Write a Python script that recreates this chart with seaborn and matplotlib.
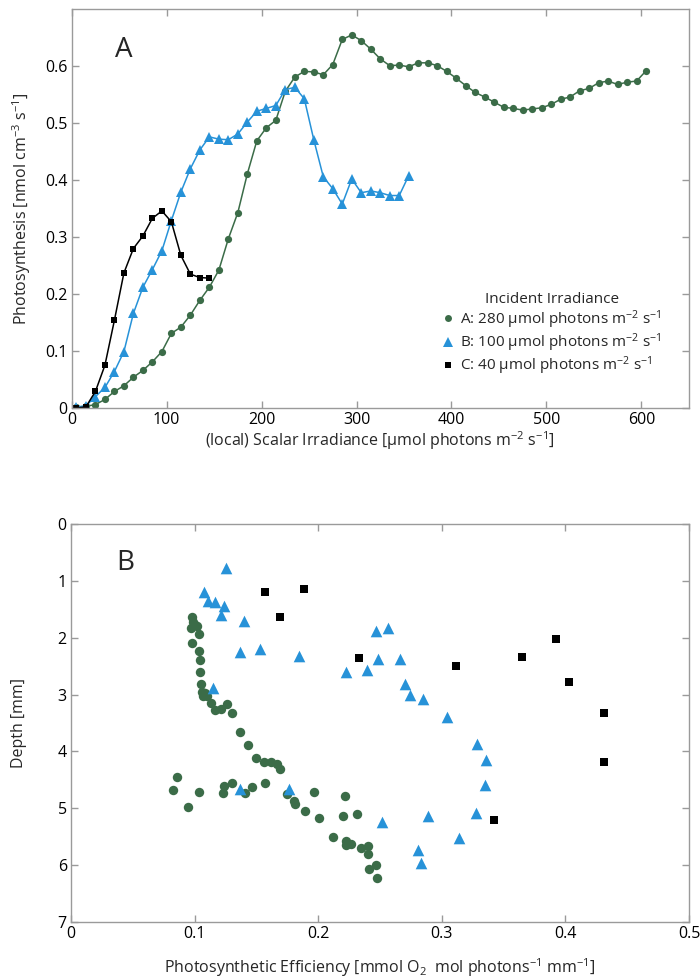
import matplotlib
matplotlib.use("Agg")
import matplotlib.pyplot as plt
from matplotlib.lines import Line2D
import seaborn as sns
import pandas as pd

# panel A: photosynthesis vs local scalar irradiance
irr_a = [5, 15, 25, 35, 45, 55, 65, 75, 85, 95, 105, 115, 125, 135, 145, 155,
         165, 175, 185, 195, 205, 215, 225, 235, 245, 255, 265, 275, 285, 295,
         305, 315, 325, 335, 345, 355, 365, 375, 385, 395, 405, 415, 425, 435,
         445, 455, 465, 475, 485, 495, 505, 515, 525, 535, 545, 555, 565, 575,
         585, 595, 605]
ps_a = [0.002, 0.003, 0.006, 0.015, 0.029, 0.039, 0.054, 0.066, 0.081, 0.099,
        0.131, 0.142, 0.163, 0.189, 0.212, 0.242, 0.297, 0.343, 0.411, 0.469,
        0.492, 0.505, 0.556, 0.581, 0.591, 0.590, 0.585, 0.603, 0.647, 0.655,
        0.645, 0.630, 0.613, 0.601, 0.602, 0.599, 0.606, 0.606, 0.601, 0.591,
        0.579, 0.566, 0.554, 0.546, 0.537, 0.528, 0.526, 0.523, 0.525, 0.527,
        0.533, 0.542, 0.546, 0.557, 0.561, 0.571, 0.574, 0.568, 0.572, 0.574,
        0.592]

irr_b = [5, 15, 25, 35, 45, 55, 65, 75, 85, 95, 105, 115, 125, 135, 145, 155,
         165, 175, 185, 195, 205, 215, 225, 235, 245, 255, 265, 275, 285, 295,
         305, 315, 325, 335, 345, 355]
ps_b = [0.001, 0.004, 0.020, 0.036, 0.064, 0.099, 0.166, 0.212, 0.243, 0.276,
        0.329, 0.379, 0.420, 0.453, 0.476, 0.472, 0.471, 0.481, 0.502, 0.521,
        0.526, 0.531, 0.559, 0.563, 0.543, 0.471, 0.406, 0.385, 0.358, 0.402,
        0.378, 0.381, 0.378, 0.373, 0.373, 0.408]

irr_c = [5, 15, 25, 35, 45, 55, 65, 75, 85, 95, 105, 115, 125, 135, 145]
ps_c = [0.0, 0.002, 0.029, 0.075, 0.154, 0.237, 0.280, 0.302, 0.333, 0.346,
        0.327, 0.268, 0.235, 0.229, 0.228]

# panel B: photosynthetic efficiency vs depth
eff_a = [0.0979, 0.099, 0.100, 0.1022, 0.0968, 0.1033, 0.0982, 0.1036, 0.1044,
         0.1046, 0.1054, 0.1057, 0.107, 0.1098, 0.1085, 0.1133, 0.1165, 0.1214,
         0.126, 0.1305, 0.137, 0.1432, 0.150, 0.1561, 0.1618, 0.1667, 0.1694,
         0.086, 0.0823, 0.0947, 0.1036, 0.123, 0.124, 0.1305, 0.1408, 0.1467,
         0.157, 0.175, 0.1807, 0.1815, 0.189, 0.1966, 0.2006, 0.2198, 0.2214,
         0.2314, 0.212, 0.2228, 0.2225, 0.2268, 0.2346, 0.2403, 0.2405, 0.247,
         0.2413, 0.2477]
depth_a = [1.64, 1.72, 1.78, 1.79, 1.83, 1.94, 2.10, 2.24, 2.39, 2.60, 2.82,
           2.95, 3.03, 3.02, 2.98, 3.15, 3.27, 3.26, 3.16, 3.32, 3.66, 3.89,
           4.11, 4.19, 4.18, 4.22, 4.31, 4.45, 4.67, 4.97, 4.72, 4.74, 4.61,
           4.56, 4.74, 4.63, 4.55, 4.75, 4.88, 4.92, 5.04, 4.71, 5.17, 5.14,
           4.79, 5.10, 5.51, 5.58, 5.64, 5.62, 5.69, 5.67, 5.81, 5.99, 6.07,
           6.23]

eff_b = [0.1254, 0.1079, 0.1108, 0.1165, 0.124, 0.1214, 0.140, 0.1365, 0.1529,
         0.1845, 0.1151, 0.1367, 0.1767, 0.2465, 0.2562, 0.2222, 0.2395, 0.2481,
         0.2664, 0.2705, 0.274, 0.2848, 0.304, 0.3282, 0.3358, 0.335, 0.328,
         0.2888, 0.2516, 0.3139, 0.281, 0.2828]
depth_b = [0.78, 1.19, 1.35, 1.37, 1.45, 1.60, 1.70, 2.26, 2.20, 2.33, 2.89,
           4.66, 4.66, 1.89, 1.83, 2.60, 2.57, 2.37, 2.38, 2.81, 3.00, 3.08,
           3.40, 3.87, 4.15, 4.59, 5.08, 5.14, 5.25, 5.52, 5.74, 5.96]

eff_c = [0.157, 0.1694, 0.1888, 0.233, 0.3115, 0.3646, 0.3924, 0.4032, 0.4312,
         0.4315, 0.3425]
depth_c = [1.20, 1.63, 1.14, 2.36, 2.49, 2.34, 2.03, 2.78, 3.32, 4.19, 5.20]

labels = ["A: 280 µmol photons m$^{-2}$ s$^{-1}$",
          "B: 100 µmol photons m$^{-2}$ s$^{-1}$",
          "C: 40 µmol photons m$^{-2}$ s$^{-1}$"]

green = "#3b6c48"
blue = "#2792d8"
black = "#000000"
grey = "#9a9a9a"

sns.set_theme(style="ticks")
plt.rcParams["font.family"] = ["Open Sans", "DejaVu Sans"]
plt.rcParams["mathtext.fontset"] = "custom"
plt.rcParams["mathtext.rm"] = "Open Sans"
plt.rcParams["mathtext.it"] = "Open Sans"
plt.rcParams["axes.edgecolor"] = grey
plt.rcParams["axes.linewidth"] = 1.0

fig = plt.figure(figsize=(7, 9.77), dpi=100)
ax1 = fig.add_axes([0.1024, 0.5824, 0.8816, 0.4081])
ax2 = fig.add_axes([0.1014, 0.0563, 0.8829, 0.4074])

df_a = pd.DataFrame({"x": irr_a, "y": ps_a})
df_b = pd.DataFrame({"x": irr_b, "y": ps_b})
df_c = pd.DataFrame({"x": irr_c, "y": ps_c})

sns.lineplot(data=df_a, x="x", y="y", ax=ax1, color=green, marker="o",
             markersize=5.2, markeredgewidth=0, linewidth=1.1, sort=False,
             estimator=None)
sns.lineplot(data=df_b, x="x", y="y", ax=ax1, color=blue, marker="^",
             markersize=7, markeredgewidth=0, linewidth=1.1, sort=False,
             estimator=None)
sns.lineplot(data=df_c, x="x", y="y", ax=ax1, color=black, marker="s",
             markersize=4.6, markeredgewidth=0, linewidth=1.1, sort=False,
             estimator=None)

ax1.set_xlim(0, 650)
ax1.set_ylim(0, 0.7)
ax1.set_xticks([0, 100, 200, 300, 400, 500, 600])
ax1.set_yticks([0, 0.1, 0.2, 0.3, 0.4, 0.5, 0.6])
ax1.set_yticklabels(["0", "0.1", "0.2", "0.3", "0.4", "0.5", "0.6"])
ax1.set_xlabel("(local) Scalar Irradiance [µmol photons m$^{-2}$ s$^{-1}$]",
               fontsize=11.5, labelpad=1)
ax1.set_ylabel("Photosynthesis [nmol cm$^{-3}$ s$^{-1}$]", fontsize=11.5,
               labelpad=9)
ax1.text(55, 0.628, "A", fontsize=20, ha="center", va="center")

handles = [Line2D([], [], ls="none", marker="o", color=green, ms=5, mew=0),
           Line2D([], [], ls="none", marker="^", color=blue, ms=7.5, mew=0),
           Line2D([], [], ls="none", marker="s", color=black, ms=5, mew=0)]
leg = ax1.legend(handles, labels, title="Incident Irradiance", loc="upper left",
                 bbox_to_anchor=(0.6, 0.29), frameon=False, fontsize=11,
                 title_fontsize=11, handlelength=0.8, handletextpad=0.4,
                 labelspacing=0.05, borderpad=0, borderaxespad=0)

sns.scatterplot(x=eff_a, y=depth_a, ax=ax2, color=green, marker="o", s=46,
                linewidth=0)
sns.scatterplot(x=eff_b, y=depth_b, ax=ax2, color=blue, marker="^", s=70,
                linewidth=0)
sns.scatterplot(x=eff_c, y=depth_c, ax=ax2, color=black, marker="s", s=26,
                linewidth=0)

ax2.set_xlim(0, 0.5)
ax2.set_ylim(7, 0)
ax2.set_xticks([0, 0.1, 0.2, 0.3, 0.4, 0.5])
ax2.set_xticklabels(["0", "0.1", "0.2", "0.3", "0.4", "0.5"])
ax2.set_yticks([0, 1, 2, 3, 4, 5, 6, 7])
ax2.set_xlabel("Photosynthetic Efficiency [mmol O$_2$  mol photons$^{-1}$ mm$^{-1}$]",
               fontsize=11.5, labelpad=10)
ax2.set_ylabel("Depth [mm]", fontsize=11.5, labelpad=22)
ax2.text(0.0443, 0.68, "B", fontsize=20, ha="center", va="center")

for ax in (ax1, ax2):
    for sp in ax.spines.values():
        sp.set_visible(True)
        sp.set_color(grey)
    ax.tick_params(direction="in", length=5, width=1, color=grey, top=True,
                   right=True, labelsize=11.5, labelcolor="black", pad=3)

fig.savefig("out.png", dpi=100)
